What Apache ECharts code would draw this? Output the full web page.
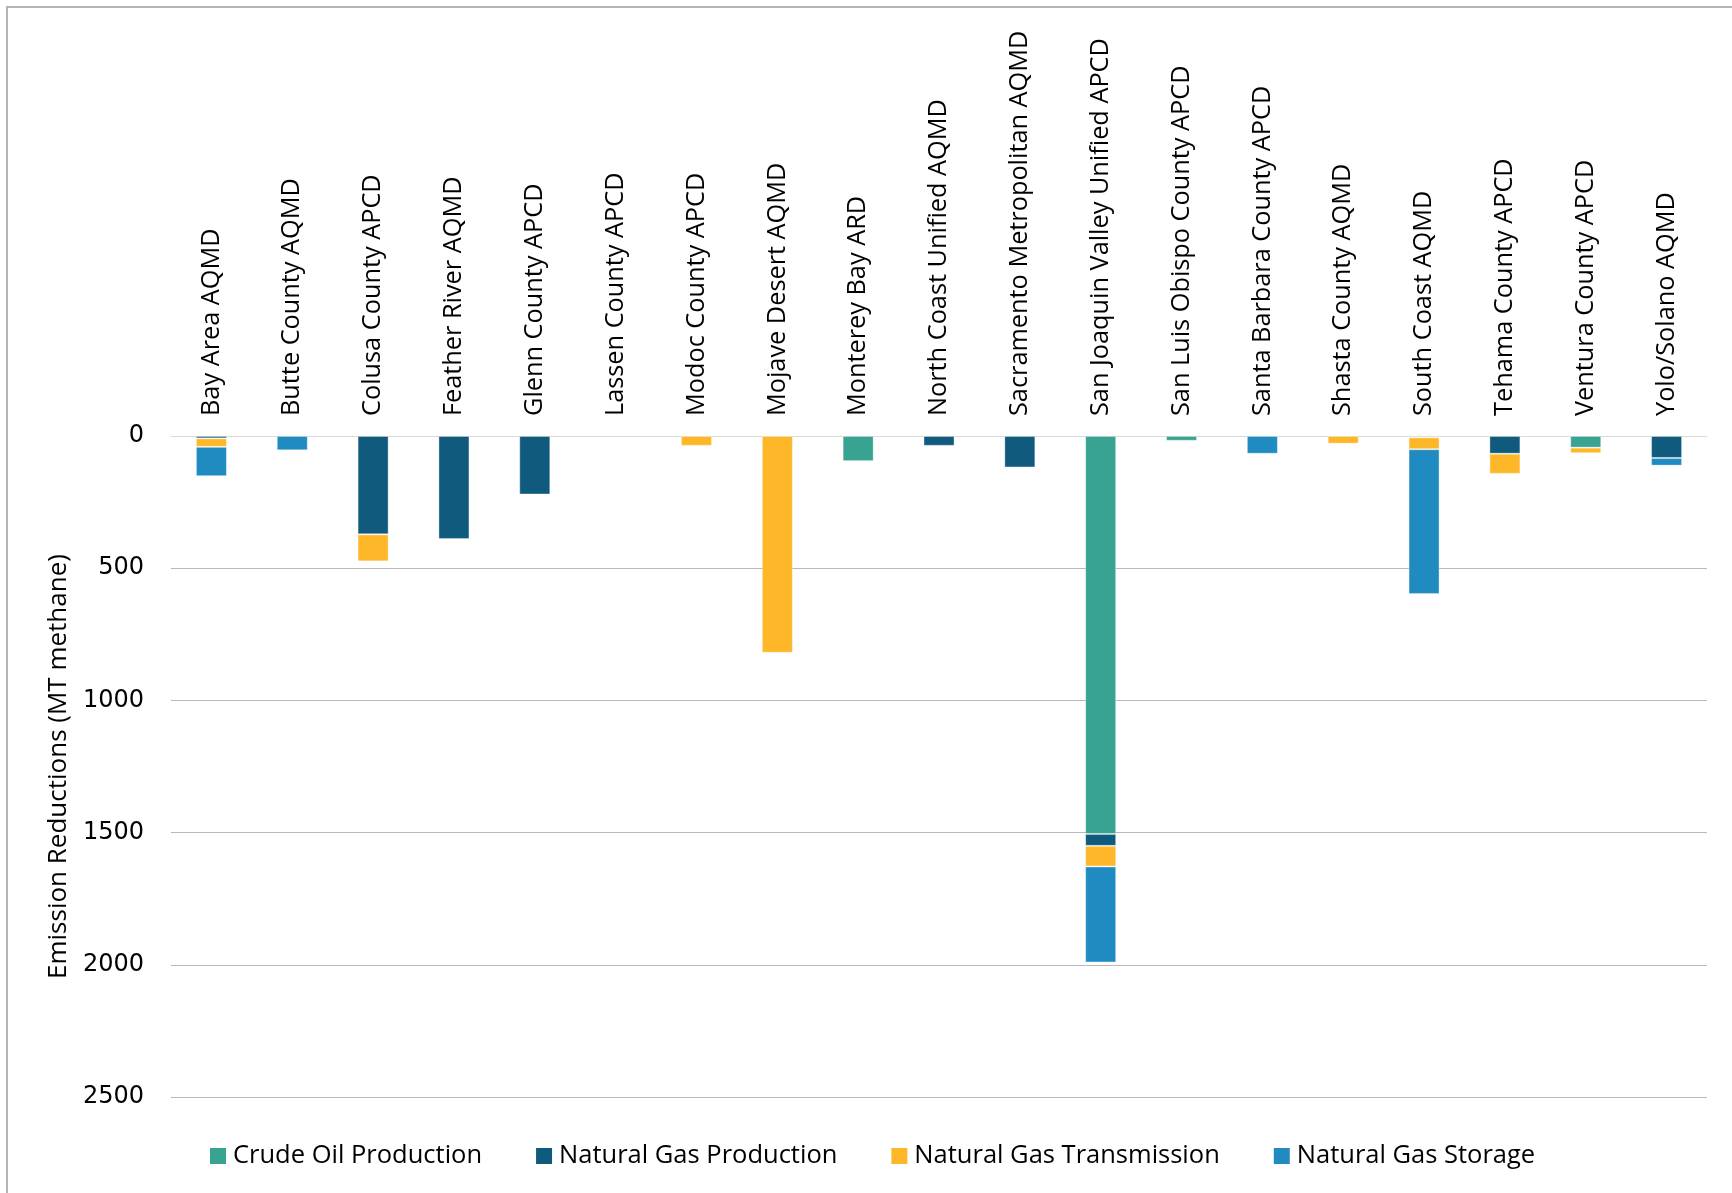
<!DOCTYPE html>
<html>
<head>
<meta charset="utf-8">
<script src="https://cdn.jsdelivr.net/npm/echarts@6/dist/echarts.min.js"></script>
<style>
html,body{margin:0;padding:0;background:#fff;}
#chart{width:1732px;height:1193px;}
</style>
</head>
<body>
<div id="chart"></div>
<script>
var categories = ["Bay Area AQMD","Butte County AQMD","Colusa County APCD","Feather River AQMD","Glenn County APCD","Lassen County APCD","Modoc County APCD","Mojave Desert AQMD","Monterey Bay ARD","North Coast Unified AQMD","Sacramento Metropolitan AQMD","San Joaquin Valley Unified APCD","San Luis Obispo County APCD","Santa Barbara County APCD","Shasta County AQMD","South Coast AQMD","Tehama County APCD","Ventura County APCD","Yolo/Solano AQMD"];
var crudeOil   = [0,0,0,0,0,0,0,0,95,0,0,1505,18,0,0,5,0,44,0];
var ngProd     = [9,0,372,390,221,0,0,0,0,37,119,45,0,0,0,0,67,0,83];
var ngTrans    = [32,0,102,0,0,0,37,820,0,0,0,78,0,0,29,45,76,21,0];
var ngStorage  = [111,54,0,0,0,0,0,0,0,0,0,363,0,67,0,548,0,0,29];
var seriesNames = ["Crude Oil Production","Natural Gas Production","Natural Gas Transmission","Natural Gas Storage"];
var colors = ["#38A391","#105A7D","#FEB729","#208BC0"];

var chart = echarts.init(document.getElementById('chart'));
var all = [crudeOil, ngProd, ngTrans, ngStorage];
var series = all.map(function(arr, i){
  return {
    name: seriesNames[i],
    type: 'bar',
    stack: 'total',
    barWidth: 31,
    data: arr.map(function(v){ return v === 0 ? null : v; }),
    itemStyle: {color: colors[i], borderColor: 'rgba(255,255,255,0.35)', borderWidth: 1}
  };
});

chart.setOption({
  animation: false,
  backgroundColor: '#fff',
  graphic: [{
    type: 'rect',
    shape: {x: 7, y: 7, width: 1760, height: 1220},
    style: {fill: 'none', stroke: '#b4b4b4', lineWidth: 2},
    silent: true
  }],
  grid: {left: 171, right: 25, top: 436, bottom: 96, containLabel: false},
  legend: {
    data: seriesNames,
    left: 205,
    top: 1138,
    itemWidth: 16,
    itemHeight: 16,
    itemGap: 54,
    itemStyle: {borderWidth: 0},
    icon: 'rect',
    textStyle: {fontFamily: '"Open Sans"', fontSize: 25.5, color: '#000', padding: [0,0,0,2]}
  },
  xAxis: {
    type: 'category',
    data: categories,
    position: 'top',
    axisLine: {show: true, lineStyle: {color: '#d9d9d9', width: 1}},
    axisTick: {show: false},
    axisLabel: {rotate: 90, fontFamily: '"Open Sans"', fontSize: 25.3, color: '#000', margin: 20, interval: 0}
  },
  yAxis: {
    type: 'value',
    inverse: true,
    min: 0, max: 2500, interval: 500,
    name: 'Emission Reductions (MT methane)',
    nameLocation: 'middle',
    nameGap: 94,
    nameTextStyle: {fontFamily: '"Open Sans"', fontSize: 26, color: '#000'},
    axisLine: {show: false},
    axisTick: {show: false},
    axisLabel: {fontFamily: '"DejaVu Sans"', fontSize: 24, color: '#000', margin: 27, formatter: function(v){ return String(v); }},
    splitLine: {lineStyle: {color: '#b8b8b8', width: 1}}
  },
  series: series
});
</script>
</body>
</html>
